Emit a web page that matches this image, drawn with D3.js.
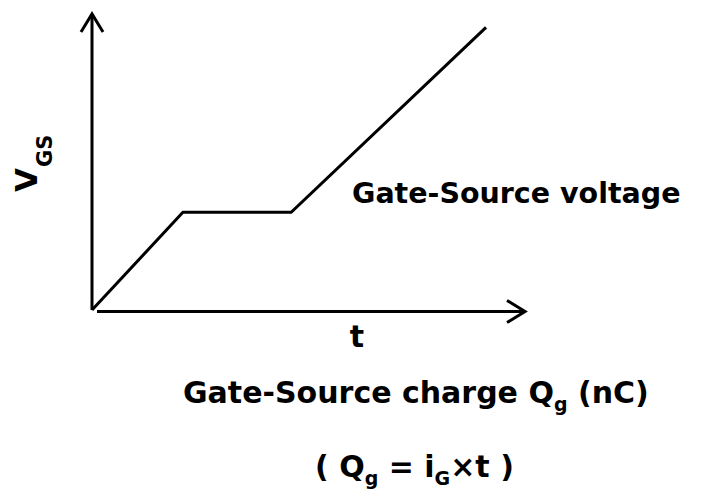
<!DOCTYPE html>
<html lang="en">
<head>
<meta charset="UTF-8">
<title>Gate-Source charge</title>
<script src="https://cdn.jsdelivr.net/npm/d3@7"></script>
<style>
    body { margin: 0; background: #fff; }
    text { font-family: "DejaVu Sans", sans-serif; font-weight: bold; fill: #000; }
</style>
</head>
<body>
<div id="chart"></div>
<script>
    // V_GS waveform vs time (arbitrary units)
    const tValues = [0, 2.1, 4.6, 9.1];
    const vgsValues = [0, 3.3, 3.3, 9.55];

    const xLabel = "t";
    const curveLabel = "Gate-Source voltage";

    let width = 707;
    let height = 495;

    let x = d3.scaleLinear().domain([0, 10]).range([92, 525]);
    let y = d3.scaleLinear().domain([0, 10]).range([310, 14]);

    let svg = d3.select("#chart")
        .append("svg")
        .attr("width", width)
        .attr("height", height);

    // axes with open arrow heads
    let axes = svg.append("g")
        .attr("stroke", "#000")
        .attr("stroke-width", 3)
        .attr("fill", "none");

    axes.append("line")
        .attr("x1", x(0)).attr("y1", y(0))
        .attr("x2", x(0)).attr("y2", y(10));
    axes.append("path")
        .attr("stroke-linejoin", "miter")
        .attr("d", `M${x(0) - 11},${y(10) + 18} L${x(0)},${y(10)} L${x(0) + 11},${y(10) + 18}`);

    axes.append("line")
        .attr("x1", x(0) + 5).attr("y1", y(0) + 1.5)
        .attr("x2", x(10)).attr("y2", y(0) + 1.5);
    axes.append("path")
        .attr("d", `M${x(10) - 18},${y(0) - 9.5} L${x(10)},${y(0) + 1.5} L${x(10) - 18},${y(0) + 12.5}`);

    // the curve
    let pts = tValues.map((t, i) => [t, vgsValues[i]]);
    svg.append("path")
        .datum(pts)
        .attr("fill", "none")
        .attr("stroke", "#000")
        .attr("stroke-width", 3)
        .attr("d", d3.line().x(d => x(d[0])).y(d => y(d[1])));

    // labels
    let vgs = svg.append("text")
        .attr("transform", `translate(37, 192) rotate(-90)`)
        .attr("font-size", 31);
    vgs.append("tspan").text("V");
    vgs.append("tspan").attr("font-size", 21).attr("dy", 15).attr("dx", 1).text("GS");

    svg.append("text")
        .attr("x", 357).attr("y", 347)
        .attr("text-anchor", "middle")
        .attr("font-size", 30)
        .text(xLabel);

    svg.append("text")
        .attr("x", 352).attr("y", 203)
        .attr("font-size", 28.5)
        .text(curveLabel);

    let q = svg.append("text")
        .attr("x", 183).attr("y", 403)
        .attr("font-size", 30);
    q.append("tspan").text("Gate-Source charge Q");
    q.append("tspan").attr("font-size", 19).attr("dy", 8).text("g");
    q.append("tspan").attr("dy", -8).text(" (nC)");

    let f = svg.append("text")
        .attr("x", 315).attr("y", 477)
        .attr("font-size", 30);
    f.append("tspan").text("( Q");
    f.append("tspan").attr("font-size", 19).attr("dy", 8).text("g");
    f.append("tspan").attr("dy", -8).text(" = i");
    f.append("tspan").attr("font-size", 19).attr("dy", 8).text("G");
    f.append("tspan").attr("dy", -8).text("\u00d7t )");
</script>
</body>
</html>
